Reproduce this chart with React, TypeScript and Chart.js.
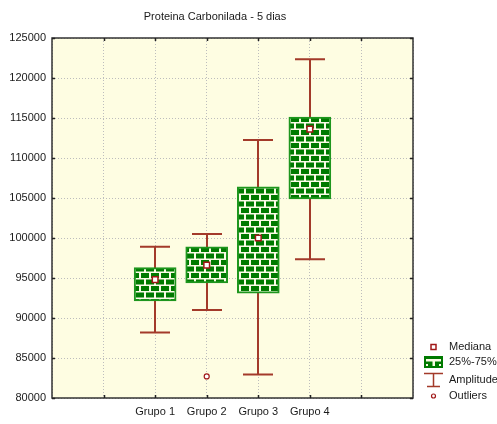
import React, { useEffect, useRef } from 'react';
import { Chart, registerables } from 'chart.js';

Chart.register(...registerables);

const TITLE = 'Proteina Carbonilada - 5 dias';
const categories = ['Grupo 1', 'Grupo 2', 'Grupo 3', 'Grupo 4'];
const minValues = [88200, 91000, 82950, 97350];
const q1Values = [92150, 94400, 93100, 104900];
const medianValues = [94800, 96600, 100000, 113600];
const q3Values = [96300, 98900, 106400, 115100];
const maxValues = [98900, 100500, 112250, 122350];
const outlierGroupIndex = [1];
const outlierValues = [82700];
const yTicks = [80000, 85000, 90000, 95000, 100000, 105000, 110000, 115000, 120000, 125000];
const legendLabels = ['Mediana', '25%-75%', 'Amplitude', 'Outliers'];

const FONT = '"Liberation Sans", Arial, sans-serif';
const GREEN = '#007a00';
const GREEN_EDGE = '#1e961e';
const CREAM = '#fbfbe6';
const RED = '#a33a2a';
const MED = '#a01818';
const PLOT_BG = '#fefde2';
const TEXT = '#1a1a1a';

function makePattern(ctx: CanvasRenderingContext2D): CanvasPattern | string {
  const c = document.createElement('canvas');
  c.width = 10;
  c.height = 13;
  const g = c.getContext('2d');
  if (!g) return GREEN;
  g.fillStyle = CREAM;
  g.fillRect(0, 0, 10, 13);
  g.fillStyle = GREEN;
  // row A
  g.fillRect(1, 0, 8, 5);
  // row B (offset by half)
  g.fillRect(6, 6.5, 4, 5);
  g.fillRect(0, 6.5, 4, 5);
  return ctx.createPattern(c, 'repeat') || GREEN;
}

const boxPlotPlugin = {
  id: 'boxPlotDecor',
  beforeDraw(chart: any) {
    const { ctx, chartArea: a } = chart;
    ctx.save();
    ctx.fillStyle = '#ffffff';
    ctx.fillRect(0, 0, chart.width, chart.height);
    ctx.fillStyle = PLOT_BG;
    ctx.fillRect(a.left, a.top, a.right - a.left, a.bottom - a.top);
    ctx.restore();
  },
  beforeDatasetsDraw(chart: any) {
    const { ctx } = chart;
    const xs = chart.scales.x;
    const ys = chart.scales.y;
    ctx.save();
    ctx.strokeStyle = RED;
    ctx.lineWidth = 2;
    categories.forEach((_, i) => {
      const x = Math.round(xs.getPixelForValue(i + 2));
      const yMin = ys.getPixelForValue(minValues[i]);
      const yMax = ys.getPixelForValue(maxValues[i]);
      ctx.beginPath();
      ctx.moveTo(x, yMin);
      ctx.lineTo(x, yMax);
      ctx.moveTo(x - 15, yMin);
      ctx.lineTo(x + 15, yMin);
      ctx.moveTo(x - 15, yMax);
      ctx.lineTo(x + 15, yMax);
      ctx.stroke();
    });
    ctx.restore();
  },
  afterDraw(chart: any) {
    const { ctx, chartArea: a } = chart;
    const xs = chart.scales.x;
    const ys = chart.scales.y;
    ctx.save();
    // frame
    ctx.strokeStyle = '#333333';
    ctx.lineWidth = 1.5;
    ctx.strokeRect(a.left, a.top, a.right - a.left, a.bottom - a.top);
    // inner tick marks
    ctx.lineWidth = 1.5;
    ctx.strokeStyle = '#222222';
    ctx.beginPath();
    yTicks.forEach((v) => {
      const y = Math.round(ys.getPixelForValue(v)) + 0.5;
      ctx.moveTo(a.left, y);
      ctx.lineTo(a.left + 3, y);
      ctx.moveTo(a.right, y);
      ctx.lineTo(a.right - 3, y);
    });
    for (let v = 1; v <= 6; v++) {
      const x = Math.round(xs.getPixelForValue(v)) + 0.5;
      ctx.moveTo(x, a.top);
      ctx.lineTo(x, a.top + 3);
      ctx.moveTo(x, a.bottom);
      ctx.lineTo(x, a.bottom - 3);
    }
    ctx.stroke();
    // title
    ctx.fillStyle = TEXT;
    ctx.font = '11px ' + FONT;
    ctx.textAlign = 'center';
    ctx.textBaseline = 'middle';
    ctx.fillText(TITLE, a.left + 163, 17);
    // legend
    const lx = a.right + 11;
    const tx = a.right + 36;
    const rows = [347, 362, 380, 396];
    ctx.textAlign = 'left';
    ctx.fillStyle = TEXT;
    legendLabels.forEach((t, i) => ctx.fillText(t, tx, rows[i]));
    // Mediana symbol
    const cx = lx + 9.5;
    ctx.strokeStyle = MED;
    ctx.lineWidth = 1.5;
    ctx.fillStyle = '#ffffff';
    ctx.fillRect(cx - 2.5, rows[0] - 2.5, 5, 5);
    ctx.strokeRect(cx - 2.5, rows[0] - 2.5, 5, 5);
    // box symbol
    ctx.fillStyle = GREEN;
    ctx.fillRect(lx, rows[1] - 6, 19, 12);
    ctx.fillStyle = CREAM;
    ctx.fillRect(lx + 2, rows[1] - 3, 15, 2.5);
    ctx.fillRect(cx - 1, rows[1] - 1, 2.5, 5);
    ctx.fillRect(lx + 2, rows[1] + 2, 2, 2);
    ctx.fillRect(lx + 15, rows[1] + 2, 2, 2);
    // amplitude symbol
    ctx.strokeStyle = RED;
    ctx.lineWidth = 1.5;
    ctx.beginPath();
    ctx.moveTo(lx, rows[2] - 6.5);
    ctx.lineTo(lx + 19, rows[2] - 6.5);
    ctx.moveTo(cx, rows[2] - 6.5);
    ctx.lineTo(cx, rows[2] + 6.5);
    ctx.moveTo(lx + 3, rows[2] + 6.5);
    ctx.lineTo(lx + 16, rows[2] + 6.5);
    ctx.stroke();
    // outlier symbol
    ctx.strokeStyle = MED;
    ctx.lineWidth = 1.2;
    ctx.beginPath();
    ctx.arc(cx, rows[3], 2, 0, Math.PI * 2);
    ctx.stroke();
    ctx.restore();
  },
};

export default function App() {
  const ref = useRef<HTMLCanvasElement | null>(null);

  useEffect(() => {
    const canvas = ref.current;
    if (!canvas) return;
    const ctx = canvas.getContext('2d');
    if (!ctx) return;
    const pattern = makePattern(ctx);

    const gridColor = '#bdbdbd';
    const chart = new Chart(ctx, {
      type: 'bar',
      data: {
        datasets: [
          {
            type: 'bar',
            label: legendLabels[1],
            data: categories.map((_, i) => ({ x: i + 2, y: [q1Values[i], q3Values[i]] })) as any,
            backgroundColor: pattern as any,
            borderColor: GREEN_EDGE,
            borderWidth: 2,
            borderSkipped: false,
            barThickness: 42,
            order: 3,
          },
          {
            type: 'scatter',
            label: legendLabels[0],
            data: categories.map((_, i) => ({ x: i + 2, y: medianValues[i] })),
            pointStyle: 'rect',
            pointRadius: 4,
            borderColor: MED,
            backgroundColor: '#ffffff',
            borderWidth: 1.5,
            order: 1,
          },
          {
            type: 'scatter',
            label: legendLabels[3],
            data: outlierGroupIndex.map((g, k) => ({ x: g + 2, y: outlierValues[k] })),
            pointStyle: 'circle',
            pointRadius: 2.5,
            borderColor: MED,
            backgroundColor: '#ffffff',
            borderWidth: 1.2,
            order: 2,
          },
        ] as any,
      },
      options: {
        responsive: false,
        animation: false,
        layout: { padding: { top: 38, right: 84, left: 0, bottom: 0 } },
        plugins: {
          legend: { display: false },
          title: { display: false },
          tooltip: { enabled: false },
        },
        scales: {
          x: {
            type: 'linear',
            min: 0,
            max: 7,
            offset: false,
            grid: { color: gridColor, lineWidth: 1, drawTicks: false, offset: false },
            border: { display: false, dash: [1, 2] },
            afterBuildTicks: (s: any) => {
              s.ticks = [0, 1, 2, 3, 4, 5, 6, 7].map((v) => ({ value: v }));
            },
            afterFit: (s: any) => {
              s.height = 26;
            },
            ticks: {
              padding: 7,
              color: TEXT,
              font: { family: FONT, size: 11 },
              maxRotation: 0,
              autoSkip: false,
              callback: (v: any) => categories[Number(v) - 2] ?? '',
            },
          },
          y: {
            type: 'linear',
            min: 80000,
            max: 125000,
            grid: { color: gridColor, lineWidth: 1, drawTicks: false },
            border: { display: false, dash: [1, 2] },
            afterBuildTicks: (s: any) => {
              s.ticks = yTicks.map((v) => ({ value: v }));
            },
            afterFit: (s: any) => {
              s.width = 52;
            },
            ticks: {
              padding: 6,
              color: TEXT,
              font: { family: FONT, size: 11 },
              callback: (v: any) => String(v),
            },
          },
        },
      } as any,
      plugins: [boxPlotPlugin],
    });
    return () => chart.destroy();
  }, []);

  return (
    <div style={{ position: 'fixed', left: 0, top: 0, width: 497, height: 424, background: '#ffffff' }}>
      <canvas ref={ref} width={497} height={424} />
    </div>
  );
}
